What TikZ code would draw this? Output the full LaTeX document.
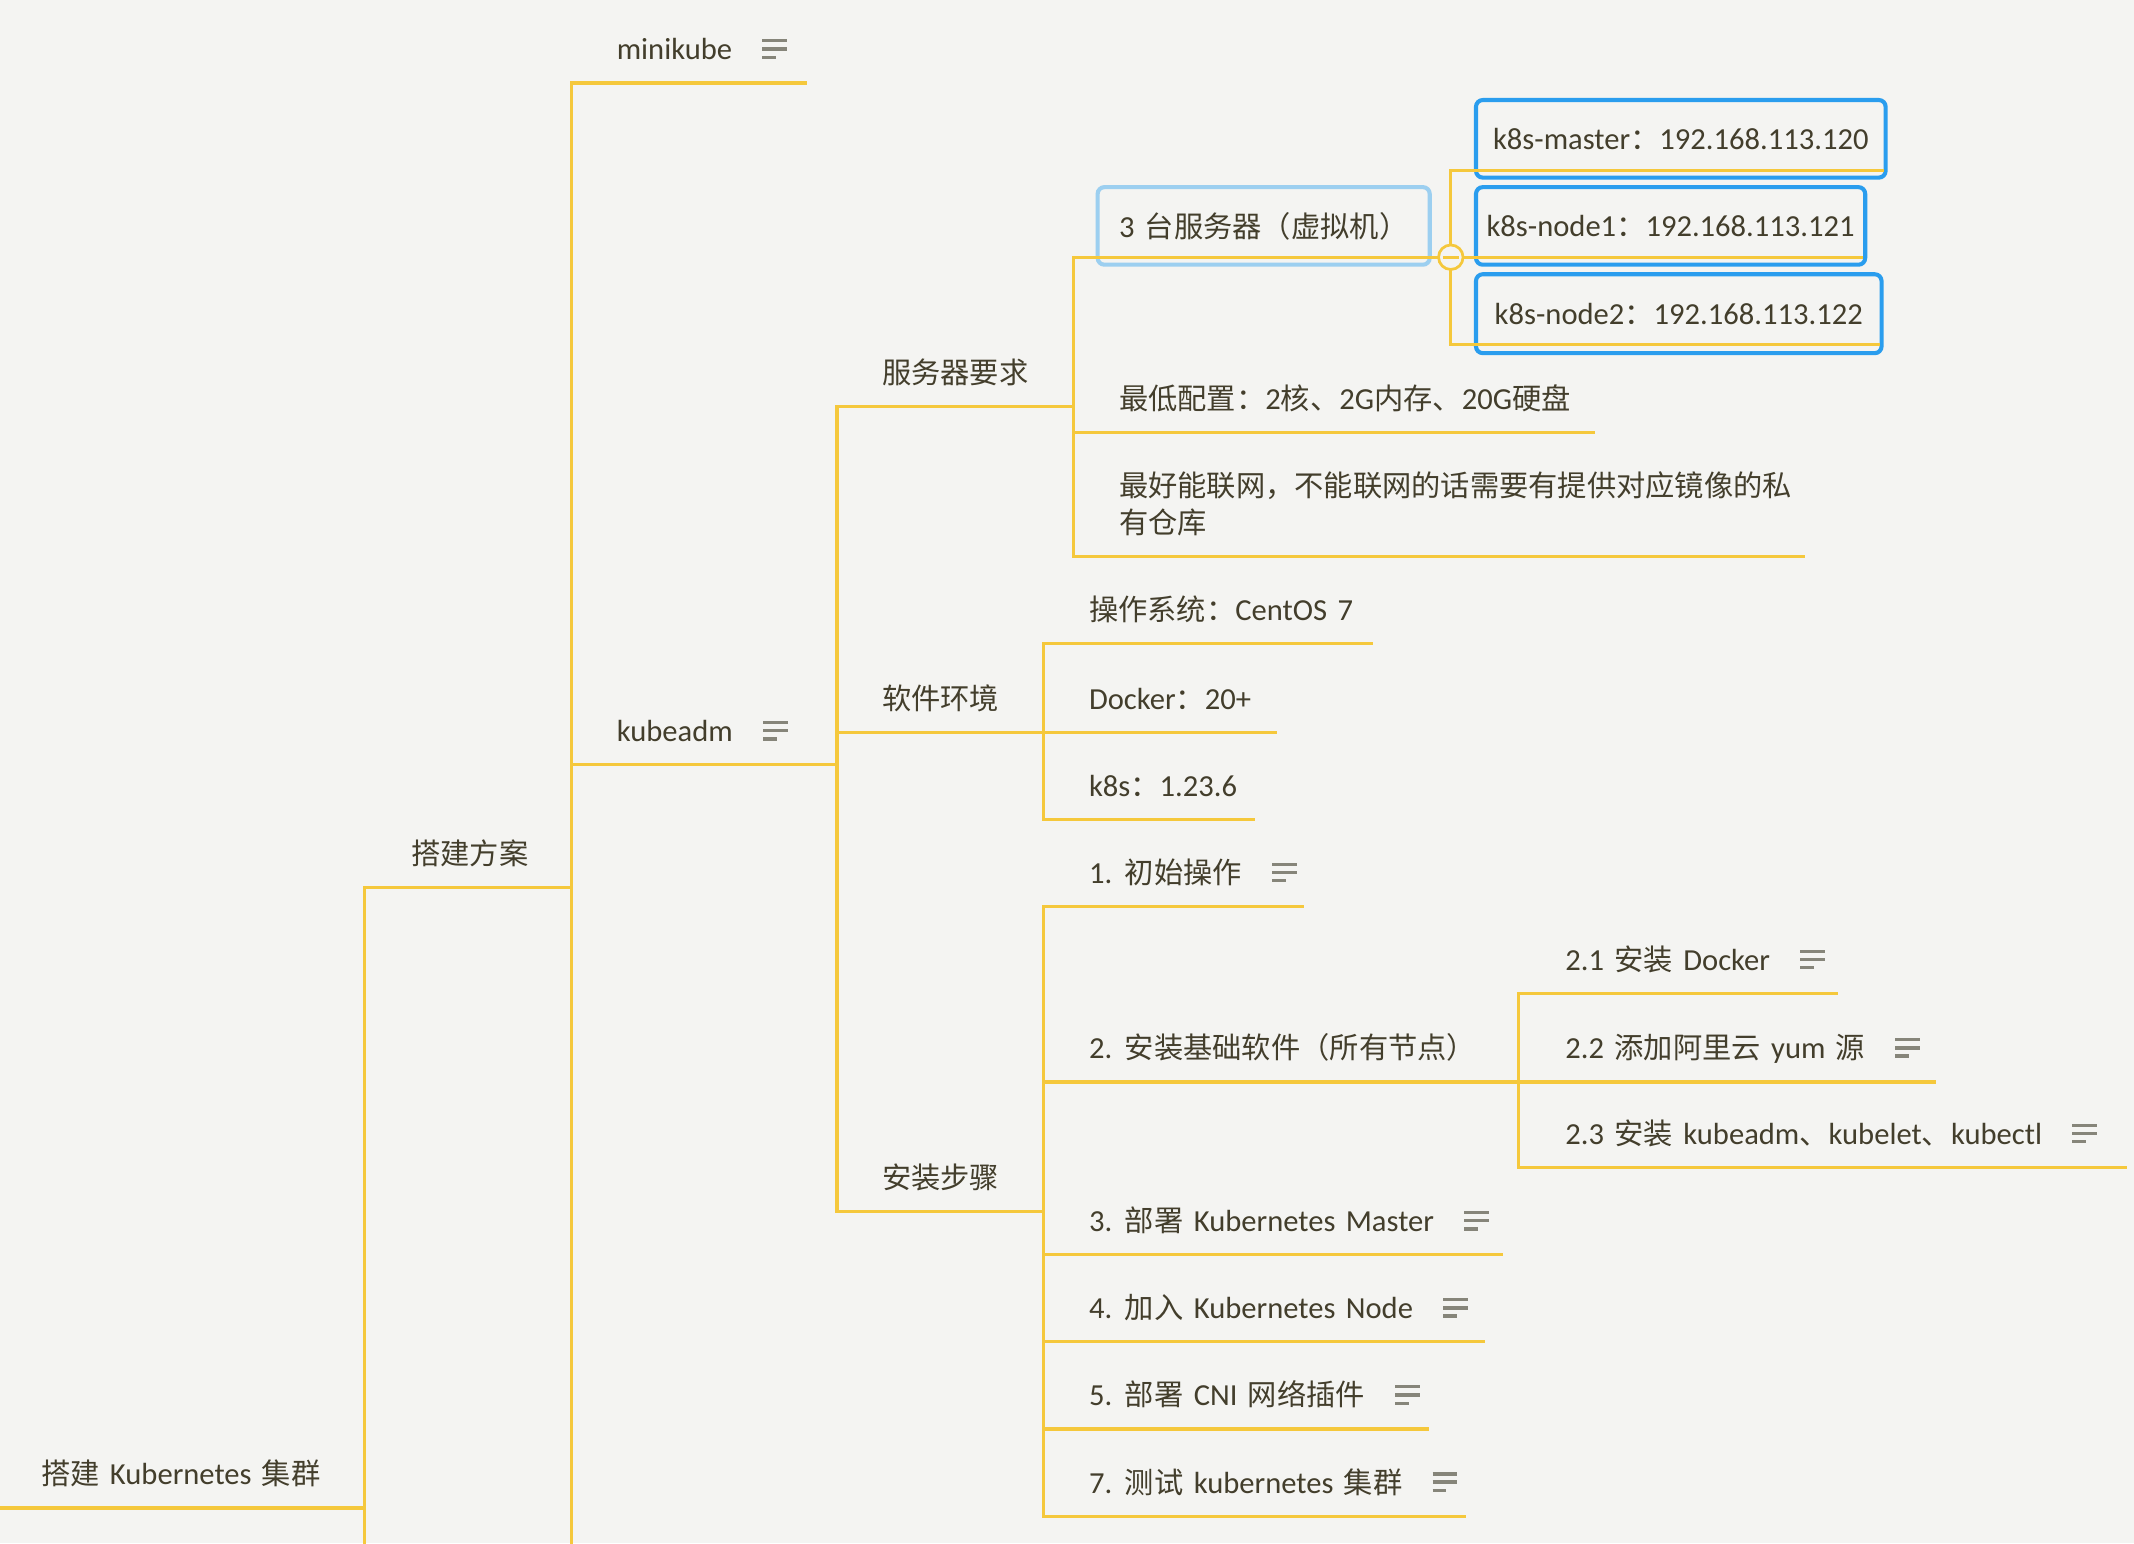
\documentclass[tikz,border=0pt]{standalone}
\usepackage{fontspec}
\setmainfont{Carlito}[Scale=1.045, WordSpace=1.5]
\newfontfamily\cjkf{Noto Sans CJK SC}
\newcommand\C[1]{{\cjkf #1}}
\definecolor{bgc}{HTML}{F4F4F2}
\definecolor{lnc}{HTML}{F5C83C}
\definecolor{txc}{HTML}{433E2C}
\definecolor{icc}{HTML}{86857A}
\definecolor{blc}{HTML}{2A9DEE}
\definecolor{lblc}{HTML}{9CCFF0}
\tikzset{
  ln/.style={draw=lnc, line width=2.3pt, line cap=rect},
  topic/.style={anchor=base west, inner sep=0pt, text=txc, font=\fontsize{21.5}{27}\selectfont},
  noteicon/.style={draw=icc, line width=2.4pt},
  bluebox/.style={draw=blc, line width=3pt, rounded corners=5pt, fill=bgc, inner sep=0pt,
     text=txc, font=\fontsize{21.5}{27}\selectfont, anchor=north west},
  lbluebox/.style={bluebox, draw=lblc},
}
\newcommand\mmtopic[6]{%
  \coordinate (#1-l) at (#2,#4);
  \coordinate (#1-r) at (#3,#4);
  \node[topic] (#1) at (#5,#4-17) {#6};
  \draw[ln] (#1-l) -- (#1-r);}
\newcommand\mmline[4]{%
  \coordinate (#1-l) at (#2,#4);
  \coordinate (#1-r) at (#3,#4);
  \draw[ln] (#1-l) -- (#1-r);}
\newcommand\mmnote[1]{%
  \begin{scope}[shift={(#1.base east)}]
    \draw[noteicon] (22,-14) -- (40,-14);
    \draw[noteicon] (22,-8) -- (40,-8);
    \draw[noteicon] (22,-2) -- (32,-2);
  \end{scope}}
\begin{document}
\begin{tikzpicture}[x=1pt,y=-1pt]
\fill[bgc] (0,0) rectangle (1568,1134);
\useasboundingbox (0,0) rectangle (1568,1134);
\clip (0,0) rectangle (1568,1134);
\coordinate (bot) at (0,1145);

% level 0 / 1
\mmtopic{zuj}{-5}{268}{1108}{30}{\C{搭建} Kubernetes \C{集群}}
\mmtopic{fangan}{268}{420}{652}{302}{\C{搭建方案}}
\mmtopic{minikube}{420}{592}{61}{453}{minikube}
\mmnote{minikube}
\mmtopic{kubeadm}{420}{615}{562}{453}{kubeadm}
\mmnote{kubeadm}

% kubeadm children
\mmtopic{fwq}{615}{789}{299}{648}{\C{服务器要求}}
\mmtopic{rjhj}{615}{767}{538}{648}{\C{软件环境}}
\mmtopic{azbz}{615}{767}{890}{648}{\C{安装步骤}}

% server requirements
\node[lbluebox, minimum width=244pt, minimum height=57pt] (tai) at (805,136) {3 \C{台服务器（虚拟机）}};
\mmline{tai}{789}{1066}{189}
\node[bluebox, minimum width=301pt, minimum height=57pt] (master) at (1083,72) {k8s-master\C{：}192.168.113.120};
\mmline{master}{1066}{1383}{125}
\node[bluebox, minimum width=286pt, minimum height=57pt] (node1) at (1083,136) {k8s-node1\C{：}192.168.113.121};
\mmline{node1}{1066}{1368}{189}
\node[bluebox, minimum width=298pt, minimum height=58pt] (node2) at (1083,200) {k8s-node2\C{：}192.168.113.122};
\mmline{node2}{1066}{1380}{253}
\mmtopic{zdpz}{789}{1171}{318}{822}{\C{最低配置：}2\C{核、}2G\C{内存、}20G\C{硬盘}}
\coordinate (lw-l) at (789,409);
\coordinate (lw-r) at (1325,409);
\node[topic, align=left] (lw) at (822,392) {\C{最好能联网，不能联网的话需要有提供对应镜像的私}\\\C{有仓库}};
\draw[ln] (lw-l) -- (lw-r);

% software
\mmtopic{os}{767}{1008}{473}{800}{\C{操作系统：}CentOS 7}
\mmtopic{docker}{767}{937}{538}{800}{Docker\C{：}20+}
\mmtopic{k8sv}{767}{921}{602}{800}{k8s\C{：}1.23.6}

% install steps
\mmtopic{init}{767}{957}{666}{800}{1. \C{初始操作}}
\mmnote{init}
\mmtopic{base}{767}{1116}{795}{800}{2. \C{安装基础软件（所有节点）}}
\mmtopic{d21}{1116}{1349}{730}{1150}{2.1 \C{安装} Docker}
\mmnote{d21}
\mmtopic{d22}{1116}{1421}{795}{1150}{2.2 \C{添加阿里云} yum \C{源}}
\mmnote{d22}
\mmtopic{d23}{1116}{1562}{858}{1150}{2.3 \C{安装} kubeadm\C{、}kubelet\C{、}kubectl}
\mmnote{d23}
\mmtopic{master3}{767}{1103}{922}{800}{3. \C{部署} Kubernetes Master}
\mmnote{master3}
\mmtopic{node4}{767}{1090}{986}{800}{4. \C{加入} Kubernetes Node}
\mmnote{node4}
\mmtopic{cni}{767}{1049}{1050}{800}{5. \C{部署} CNI \C{网络插件}}
\mmnote{cni}
\mmtopic{test}{767}{1076}{1114}{800}{7. \C{测试} kubernetes \C{集群}}
\mmnote{test}

% spines
\draw[ln] (fangan-l) -- (fangan-l |- bot);
\draw[ln] (minikube-l) -- (minikube-l |- bot);
\draw[ln] (fwq-l) -- (azbz-l);
\draw[ln] (tai-l) -- (lw-l);
\draw[ln] (master-l) -- (node2-l);
\draw[ln] (os-l) -- (k8sv-l);
\draw[ln] (init-l) -- (test-l);
\draw[ln] (d21-l) -- (d23-l);

% collapse marker
\node[circle, draw=lnc, line width=2pt, fill=bgc, minimum size=18pt, inner sep=0pt] (collapse) at (tai-r) {};
\draw[draw=lnc, line width=2pt] ([xshift=-6pt]collapse.center) -- ([xshift=6pt]collapse.center);
\end{tikzpicture}
\end{document}
